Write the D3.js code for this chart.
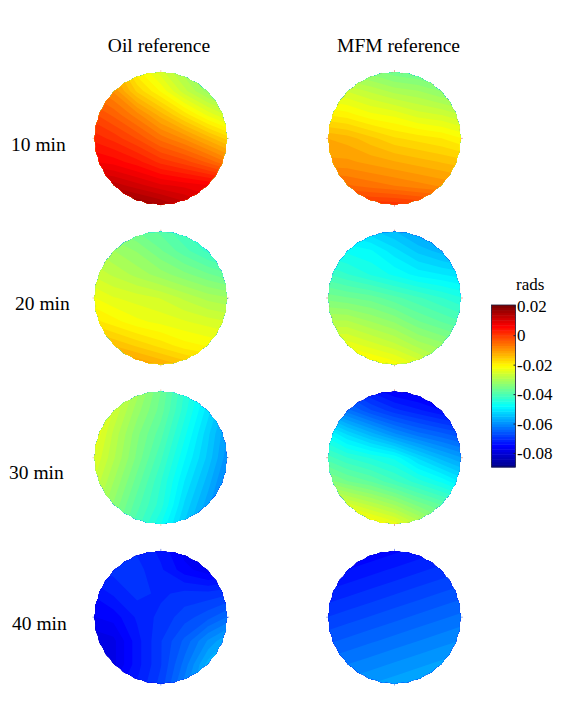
<!DOCTYPE html>
<html>
<head>
<meta charset="utf-8">
<script src="https://cdn.jsdelivr.net/npm/d3@7"></script>
<style>
html, body { margin: 0; background: #fff; }
text { font-family: "Liberation Serif", serif; fill: #000; }
</style>
</head>
<body>
<div id="wrapper"></div>
<script>
width = 569
height = 711

// phase, in milliradians, on a 7x7 grid over each disc
var oil10 = [
    -10, -13, -21, -26, -31, -36, -40,
    -6, -9, -16, -21, -27, -32, -36,
    -1, -4, -8, -13, -18, -23, -27,
    3, 1, -2, -6, -9, -13, -17,
    7, 6, 4, 1, -1, -4, -8,
    14, 13, 11, 9, 8, 7, 5,
    20, 20, 19, 17, 14, 11, 9]
var mfm10 = [
    -33, -34, -35, -37, -38, -39, -41,
    -25, -26, -28, -30, -31, -33, -34,
    -19, -20, -22, -23, -25, -26, -28,
    -12, -13, -15, -17, -18, -19, -21,
    -10, -10, -11, -12, -13, -14, -15,
    -4, -5, -6, -7, -8, -9, -10,
    3, 3, 3, 3, 2, 1, 0]
var oil20 = [
    -33, -35, -37, -39, -42, -45, -47,
    -29, -31, -33, -36, -39, -42, -44,
    -26, -28, -30, -32, -34, -36, -38,
    -22, -24, -25, -26, -28, -30, -31,
    -18, -20, -22, -23, -24, -25, -26,
    -12, -14, -16, -18, -20, -21, -22,
    -6, -8, -9, -11, -13, -15, -17]
var mfm20 = [
    -49, -52, -54, -56, -59, -61, -63,
    -46, -47, -48, -51, -54, -56, -58,
    -41, -43, -45, -47, -49, -50, -51,
    -35, -36, -37, -39, -41, -43, -45,
    -29, -29, -31, -33, -36, -38, -40,
    -23, -23, -25, -27, -30, -32, -34,
    -15, -16, -18, -20, -23, -27, -29]
var oil30 = [
    -17, -24, -30, -36, -43, -49, -56,
    -19, -26, -32, -37, -44, -51, -58,
    -21, -28, -34, -39, -46, -53, -60,
    -23, -29, -35, -41, -48, -54, -61,
    -25, -31, -37, -43, -50, -56, -63,
    -27, -33, -39, -44, -52, -58, -65,
    -29, -35, -41, -47, -54, -60, -67]
var mfm30 = [
    -65, -70, -74, -77, -78, -80, -81,
    -58, -63, -67, -70, -72, -74, -75,
    -47, -52, -56, -60, -63, -65, -67,
    -40, -43, -45, -47, -52, -56, -59,
    -33, -36, -38, -41, -44, -47, -51,
    -23, -25, -28, -31, -35, -38, -41,
    -15, -16, -18, -21, -26, -31, -35]
var oil40 = [
    -70, -70, -71, -73, -77, -78, -78,
    -71, -70, -70, -72, -75, -77, -76,
    -74, -72, -70, -71, -70, -70, -69,
    -76, -75, -72, -70, -68, -66, -63,
    -79, -78, -73, -69, -65, -60, -56,
    -79, -78, -73, -69, -63, -56, -52,
    -76, -75, -72, -68, -61, -55, -49]
var mfm40 = [
    -78, -77, -76, -75, -74, -73, -72,
    -75, -74, -73, -72, -71, -70, -69,
    -72, -71, -70, -69, -68, -67, -66,
    -69, -68, -67, -66, -65, -64, -63,
    -66, -65, -64, -63, -62, -61, -60,
    -63, -62, -61, -60, -59, -58, -57,
    -60, -59, -58, -57, -56, -55, -54]

var columnNames = ["Oil reference", "MFM reference"]
var rowNames = ["10 min", "20 min", "30 min", "40 min"]
var panels = [[oil10, mfm10], [oil20, mfm20], [oil30, mfm30], [oil40, mfm40]]
var tickValues = [20, 0, -20, -40, -60, -80]
var tickLabels = ["0.02", "0", "-0.02", "-0.04", "-0.06", "-0.08"]

var gridSize = 7
var colorMin = -89.5, colorMax = 20.5
var nColors = 64

var columnX = [160.8, 394.5]
var titleX = [159, 398.5]
var rowY = [138.4, 298, 457.7, 617.2]
var rowLabelX = [11, 15, 9, 12]
var rowLabelY = [151, 310, 479, 630]
var radius = 66.3

// rim marks differ a bit between panels
var rimColors = [["#f0a050", "#d8503a"], ["#e89040", "#c8503a"], ["#e8a070", "#c0503a"], ["#2040e0", "#2040e0"]]

const jet = d3.scaleLinear()
    .domain([0, 1 / 8, 3 / 8, 5 / 8, 7 / 8, 1])
    .range(["#000090", "#0000ff", "#00ffff", "#ffff00", "#ff0000", "#800000"])

var step = (colorMax - colorMin) / nColors
var thresholds = d3.range(nColors).map(i => colorMin + i * step)

const svg = d3.select("#wrapper").append("svg")
    .attr("width", width)
    .attr("height", height)
    .style("display", "block")

const contours = d3.contours().size([gridSize, gridSize]).thresholds(thresholds)

// slightly scalloped disc outline, like the pixelated original
var outline = d3.lineRadial().curve(d3.curveCardinalClosed)(
    d3.range(64).map(i => [i * 2 * Math.PI / 64, radius - (i % 2) * 0.8]))

panels.forEach((row, r) => {
    row.forEach((values, c) => {
        var cx = columnX[c], cy = rowY[r]
        var span = radius * 1.25
        var x = d3.scaleLinear().domain([0, gridSize]).range([cx - span, cx + span])
        var y = d3.scaleLinear().domain([0, gridSize]).range([cy - span, cy + span])
        var path = d3.geoPath(d3.geoTransform({
            point: function (px, py) { this.stream.point(x(px), y(py)) }
        }))

        var id = "disc" + r + c
        svg.append("clipPath").attr("id", id)
            .append("path")
            .attr("transform", `translate(${cx},${cy})`)
            .attr("d", outline)

        var g = svg.append("g")

        // ticks on the rim, drawn first so the disc sits over them
        g.selectAll("line")
            .data([0, 90, 180, 270])
            .join("line")
            .attr("transform", d => `translate(${cx},${cy}) rotate(${d})`)
            .attr("x1", radius - 2)
            .attr("x2", radius + 2)
            .attr("stroke", rimColors[r][c])
            .attr("stroke-opacity", 0.5)

        g.append("g")
            .attr("clip-path", `url(#${id})`)
            .selectAll("path")
            .data(contours(values))
            .join("path")
            .attr("d", path)
            .attr("fill", (d, i) => jet(i / (nColors - 1)))

        g.append("path")
            .attr("transform", `translate(${cx},${cy})`)
            .attr("d", outline)
            .attr("fill", "none")
            .attr("stroke", rimColors[r][c])
            .attr("stroke-width", 0.6)
            .attr("stroke-opacity", 0.3)
            .attr("stroke-dasharray", "2 9")
    })
})

svg.selectAll(".column-title")
    .data(columnNames)
    .join("text")
    .attr("class", "column-title")
    .attr("x", (d, i) => titleX[i])
    .attr("y", 52)
    .attr("text-anchor", "middle")
    .style("font-size", "19.5px")
    .text(d => d)

svg.selectAll(".row-title")
    .data(rowNames)
    .join("text")
    .attr("class", "row-title")
    .attr("x", (d, i) => rowLabelX[i])
    .attr("y", (d, i) => rowLabelY[i])
    .style("font-size", "19.5px")
    .text(d => d)

// colorbar
var barLeft = 491.5, barRight = 515.5, barTop = 305, barBottom = 467
var barY = d3.scaleLinear().domain([colorMax, colorMin]).range([barTop, barBottom])

svg.append("g")
    .selectAll("rect")
    .data(thresholds)
    .join("rect")
    .attr("x", barLeft)
    .attr("width", barRight - barLeft)
    .attr("y", d => barY(d + step))
    .attr("height", barY(colorMin) - barY(colorMin + step) + 0.5)
    .attr("fill", (d, i) => jet(i / (nColors - 1)))

svg.append("rect")
    .attr("x", barLeft)
    .attr("y", barTop)
    .attr("width", barRight - barLeft)
    .attr("height", barBottom - barTop)
    .attr("fill", "none")
    .attr("stroke", "#1a1a3a")
    .attr("stroke-width", 0.8)

var barAxis = svg.append("g")
    .attr("transform", `translate(${barRight},0)`)
    .call(d3.axisRight(barY)
        .tickValues(tickValues)
        .tickFormat((d, i) => tickLabels[i])
        .tickSize(-2)
        .tickPadding(3))
barAxis.select(".domain").remove()
barAxis.selectAll("line").attr("stroke", "#1a1a3a")
barAxis.selectAll("text")
    .attr("x", 1.5)
    .style("font-family", '"Liberation Serif", serif')
    .style("font-size", "17px")

svg.append("text")
    .attr("x", 516)
    .attr("y", 290)
    .style("font-size", "17px")
    .text("rads")
</script>
</body>
</html>
